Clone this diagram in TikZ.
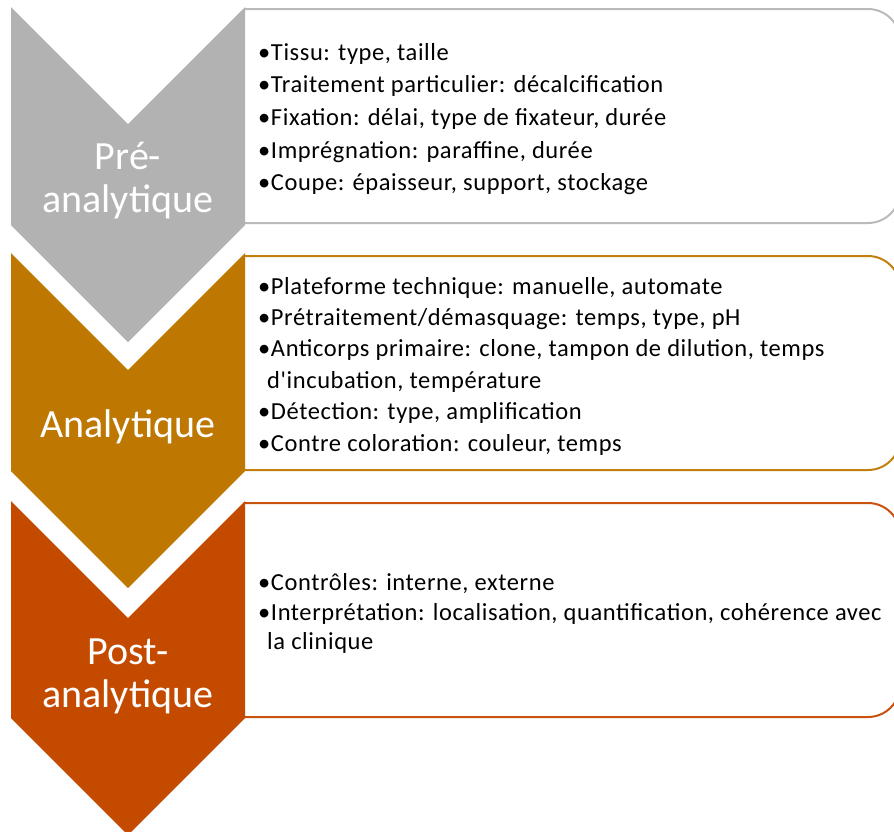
\documentclass[tikz,border=0pt]{standalone}
\usepackage{fontspec}
\setmainfont{Carlito}[Ligatures=TeXOff]
\newfontfamily\itemfont{Carlito}[Ligatures=TeXOff, LetterSpace=2.4]
\definecolor{cgray}{HTML}{B2B2B2}
\definecolor{cgrayline}{HTML}{BABABA}
\definecolor{cbrown}{HTML}{BE7700}
\definecolor{cbrownline}{HTML}{C3800F}
\definecolor{corange}{HTML}{C44A00}
\definecolor{corangeline}{HTML}{C9520F}
\begin{document}
\begin{tikzpicture}[x=1pt,y=-1pt,
  boxline/.style={line width=2pt, rounded corners=32pt, fill=white},
  phase/.style={text=white, font=\fontsize{40}{43}\selectfont, align=center, inner sep=0pt},
  items/.style={text=black, align=left, anchor=west, inner sep=0pt}
]
\useasboundingbox (0,0) rectangle (894,831);
\fill[white] (0,0) rectangle (894,831);
% boxes
\draw[boxline, draw=cgrayline] (245,9) -- (900,9) -- (900,223) -- (245,223);
\draw[boxline, draw=cbrownline] (245,256) -- (900,256) -- (900,470) -- (245,470);
\draw[boxline, draw=corangeline] (245,503) -- (900,503) -- (900,717) -- (245,717);
% chevrons
\fill[cgray] (11,7) -- (128,124) -- (245,7) -- (245,225) -- (128,342) -- (11,225) -- cycle;
\fill[cbrown] (11,253) -- (128,370) -- (245,253) -- (245,471) -- (128,588) -- (11,471) -- cycle;
\fill[corange] (11,501) -- (128,618) -- (245,501) -- (245,718) -- (128,835) -- (11,718) -- cycle;
% phase labels
\node[phase] (p1) at (128,181) {Pré-\\analytique};
\node[phase] (p2) at (128,427) {Analytique};
\node[phase] (p3) at (128,676) {Post-\\analytique};
% items
\node[items, font=\itemfont\fontsize{24.5}{32.7}\selectfont] (t1) at (258,119) {•Tissu: type, taille\\
•Traitement particulier: décalcification\\
•Fixation: délai, type de fixateur, durée\\
•Imprégnation: paraffine, durée\\
•Coupe: épaisseur, support, stockage};
\node[items, font=\itemfont\fontsize{24.5}{31.4}\selectfont] (t2) at (258,366) {•Plateforme technique: manuelle, automate\\
•Prétraitement/démasquage: temps, type, pH\\
•Anticorps primaire: clone, tampon de dilution, temps\\
\hspace*{9pt}d'incubation, température\\
•Détection: type, amplification\\
•Contre coloration: couleur, temps};
\node[items, font=\itemfont\fontsize{24.5}{29.5}\selectfont] (t3) at (258,613.5) {•Contrôles: interne, externe\\
•Interprétation: localisation, quantification, cohérence avec\\
\hspace*{9pt}la clinique};
\end{tikzpicture}
\end{document}
